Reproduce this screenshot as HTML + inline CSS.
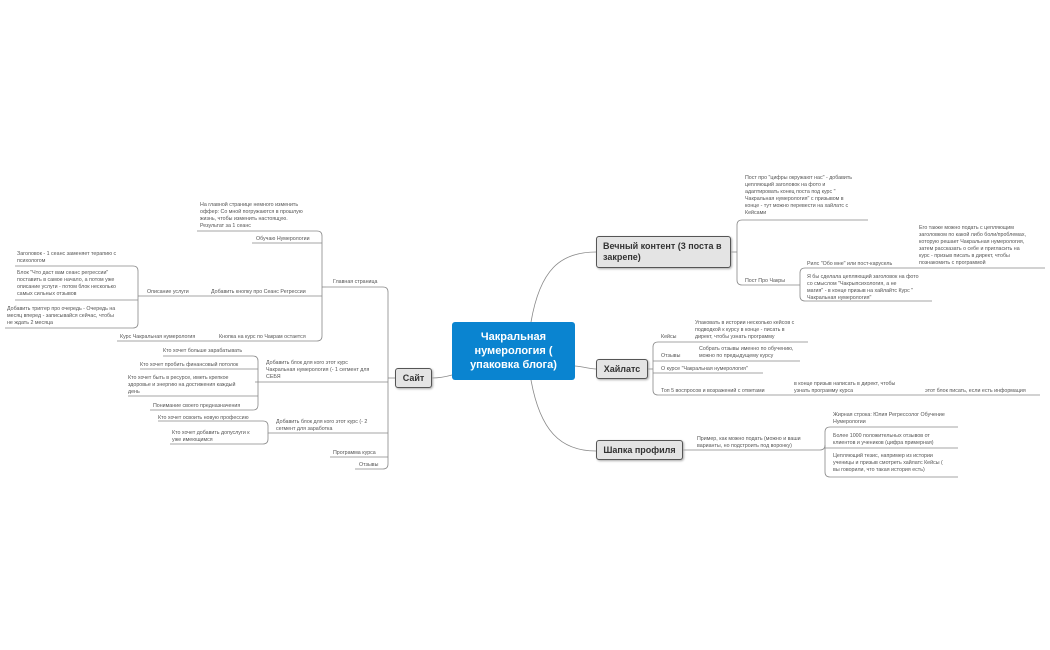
<!DOCTYPE html>
<html><head><meta charset="utf-8"><style>
body{margin:0;width:1050px;height:650px;background:#fff;position:relative;overflow:hidden;font-family:"Liberation Sans","DejaVu Sans",sans-serif}
.t{position:absolute;font-size:5.3px;line-height:6.9px;color:#555;white-space:nowrap}
.n{position:absolute;background:#e4e4e4;border:1px solid #555;border-radius:3px;font-weight:bold;color:#333;box-sizing:border-box;box-shadow:1px 1px 2px #aaa}
svg{position:absolute;left:0;top:0}
</style></head><body>
<svg width="1050" height="650" fill="none" stroke="#888" stroke-width="0.8">
<!-- central connectors -->
<path d="M531,322 C540,270 560,252 596,252"/>
<path d="M531,380 C540,430 560,451 596,451"/>
<path d="M575,366 C585,367 590,369 596,369"/>
<path d="M452,375 C445,377 440,378 432,378"/>
<!-- Сайт -->
<path d="M395,378 H388"/>
<path d="M388,292 Q388,287 383,287 H326"/>
<path d="M388,292 V464 Q388,469 383,469 H355"/>
<path d="M388,382 H255"/><path d="M388,433 H270"/><path d="M388,457 H330"/>
<!-- Главная -->
<path d="M326,287 H322"/>
<path d="M322,236 Q322,231 317,231 H197"/>
<path d="M322,236 V336 Q322,341 317,341 H117"/>
<path d="M322,243 H252"/><path d="M322,296 H140"/>
<path d="M140,296 H138"/>
<path d="M138,271 Q138,266 133,266 H15"/>
<path d="M138,271 V323 Q138,328 133,328 H5"/>
<path d="M138,300 H15"/>
<!-- segment 1 -->
<path d="M258,382 V361 Q258,356 253,356 H163"/>
<path d="M258,382 V405 Q258,410 253,410 H150"/>
<path d="M258,369 H140"/><path d="M258,396 H128"/>
<!-- segment 2 -->
<path d="M270,433 H268 V426 Q268,421 263,421 H158"/>
<path d="M268,433 V439 Q268,444 263,444 H170"/>
<!-- Вечный -->
<path d="M731,252 H737"/>
<path d="M737,252 V225 Q737,220 742,220 H868"/>
<path d="M737,252 V280 Q737,285 742,285 H800"/>
<path d="M800,285 V273 Q800,268 805,268 H1045"/>
<path d="M800,285 V296 Q800,301 805,301 H932"/>
<!-- Хайлатс -->
<path d="M648,369 H653"/>
<path d="M653,369 V347 Q653,342 658,342 H808"/>
<path d="M653,369 V390 Q653,395 658,395 H1040"/>
<path d="M653,361 H800"/><path d="M653,373 H763"/>
<!-- Шапка -->
<path d="M683,450 H820 Q825,450 825,445 V432 Q825,427 830,427 H958"/>
<path d="M825,445 V472 Q825,477 830,477 H958"/>
<path d="M825,448 H958"/>
</svg>

<div style="position:absolute;left:452px;top:322px;width:123px;height:58px;background:#0a84d0;border-radius:3px;color:#fff;font-weight:bold;font-size:11px;line-height:14px;text-align:center;display:flex;align-items:center;justify-content:center">Чакральная<br>нумерология (<br>упаковка блога)</div>
<div class="n" style="left:395px;top:368px;width:37px;height:20px;font-size:9px;line-height:18px;text-align:center">Сайт</div>
<div class="n" style="left:596px;top:236px;width:135px;height:32px;font-size:9px;line-height:11px;padding:4px 6px">Вечный контент (3 поста в закрепе)</div>
<div class="n" style="left:596px;top:359px;width:52px;height:20px;font-size:9px;line-height:18px;text-align:center">Хайлатс</div>
<div class="n" style="left:596px;top:440px;width:87px;height:20px;font-size:9px;line-height:18px;text-align:center">Шапка профиля</div>

<!-- left -->
<div class="t" style="left:333px;top:279px">Главная страница</div>
<div class="t" style="left:200px;top:202px">На главной странице немного изменить<br>оффер: Со мной погружаются в прошлую<br>жизнь, чтобы изменить настоящую.<br>Результат за 1 сеанс</div>
<div class="t" style="left:256px;top:236px">Обучаю Нумерологии</div>
<div class="t" style="left:211px;top:289px">Добавить кнопку про Сеанс Регрессии</div>
<div class="t" style="left:147px;top:289px">Описание услуги</div>
<div class="t" style="left:17px;top:251px">Заголовок - 1 сеанс заменяет терапию с<br>психологом</div>
<div class="t" style="left:17px;top:270px">Блок "Что даст вам сеанс регрессии"<br>поставить в самое начало, а потом уже<br>описание услуги - потом блок несколько<br>самых сильных отзывов</div>
<div class="t" style="left:7px;top:306px">Добавить триггер про очередь - Очередь на<br>месяц вперед - записывайся сейчас, чтобы<br>не ждать 2 месяца</div>
<div class="t" style="left:219px;top:334px">Кнопка на курс по Чакрам остается</div>
<div class="t" style="left:120px;top:334px">Курс Чакральная нумерология</div>
<div class="t" style="left:266px;top:360px">Добавить блок для кого этот курс<br>Чакральная нумерология (- 1 сегмент для<br>СЕБЯ</div>
<div class="t" style="left:163px;top:348px">Кто хочет больше зарабатывать</div>
<div class="t" style="left:140px;top:362px">Кто хочет пробить финансовый потолок</div>
<div class="t" style="left:128px;top:375px">Кто хочет быть в ресурсе, иметь крепкое<br>здоровье и энергию на достижения каждый<br>день</div>
<div class="t" style="left:153px;top:403px">Понимание своего предназначения</div>
<div class="t" style="left:276px;top:419px">Добавить блок для кого этот курс (- 2<br>сегмент для заработка</div>
<div class="t" style="left:158px;top:415px">Кто хочет освоить новую профессию</div>
<div class="t" style="left:172px;top:430px">Кто хочет добавить допуслуги к<br>уже имеющимся</div>
<div class="t" style="left:333px;top:450px">Программа курса</div>
<div class="t" style="left:359px;top:462px">Отзывы</div>

<!-- right -->
<div class="t" style="left:745px;top:175px">Пост про "цифры окружают нас" - добавить<br>цепляющий заголовок на фото и<br>адаптировать конец поста под курс "<br>Чакральная нумерология" с призывом в<br>конце - тут можно перевести на хайлатс с<br>Кейсами</div>
<div class="t" style="left:745px;top:278px">Пост Про Чакры</div>
<div class="t" style="left:807px;top:261px">Рилс "Обо мне"  или пост-карусель</div>
<div class="t" style="left:919px;top:225px">Его также можно подать с цепляющим<br>заголовком по какой либо боли/проблемах,<br>которую решает Чакральная нумерология,<br>затем рассказать о себе и пригласить на<br>курс - призыв писать в директ, чтобы<br>познакомить с программой</div>
<div class="t" style="left:807px;top:274px">Я бы сделала цепляющий заголовок на фото<br>со смыслом "Чакрыпсихология, а не<br>магия" - в конце призыв на хайлайтс Курс "<br>Чакральная нумерология"</div>
<div class="t" style="left:661px;top:334px">Кейсы</div>
<div class="t" style="left:695px;top:320px">Упаковать в истории несколько кейсов с<br>подводкой к курсу в конце  - писать в<br>директ, чтобы узнать программу</div>
<div class="t" style="left:661px;top:353px">Отзывы</div>
<div class="t" style="left:699px;top:346px">Собрать отзывы именно по обучению,<br>можно по предыдущему курсу</div>
<div class="t" style="left:661px;top:366px">О курсе "Чакральная нумерология"</div>
<div class="t" style="left:661px;top:388px">Топ 5 воспросов и возражений с ответами</div>
<div class="t" style="left:794px;top:381px">в конце призыв написать в директ, чтобы<br>узнать программу курса</div>
<div class="t" style="left:925px;top:388px">этот блок писать, если есть информация</div>
<div class="t" style="left:697px;top:436px">Пример, как можно подать (можно и ваши<br>варианты, но подстроить под воронку)</div>
<div class="t" style="left:833px;top:412px">Жирная строка: Юлия Регрессолог Обучение<br>Нумерологии</div>
<div class="t" style="left:833px;top:433px">Более 1000 положительных отзывов от<br>клиентов и учеников (цифра примерная)</div>
<div class="t" style="left:833px;top:453px">Цепляющий тезис, например из истории<br>ученицы и призыв смотреть хайлатс Кейсы (<br>вы говорили, что такая история есть)</div>
</body></html>
